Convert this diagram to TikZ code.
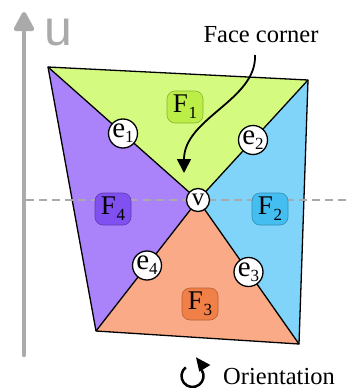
\documentclass[tikz,border=0pt]{standalone}
\usepackage{fontspec}
\setmainfont{Liberation Serif}
\newfontfamily\serifx{Liberation Serif}
\newfontfamily\axisfont{Liberation Sans}
\usetikzlibrary{arrows.meta,calc}
\definecolor{fone}{RGB}{213,250,128}
\definecolor{ftwo}{RGB}{128,212,250}
\definecolor{fthree}{RGB}{250,170,135}
\definecolor{ffour}{RGB}{170,130,250}
\definecolor{bone}{RGB}{188,238,72}
\definecolor{btwo}{RGB}{68,190,240}
\definecolor{bthree}{RGB}{240,128,72}
\definecolor{bfour}{RGB}{128,80,240}
\definecolor{axgray}{RGB}{170,170,170}
\newcommand{\flab}[1]{F\kern0.5pt\raisebox{-6pt}{\fontsize{17}{17}\selectfont #1}}
\newcommand{\elab}[1]{e\raisebox{-5pt}{\fontsize{17}{17}\selectfont #1}}
\tikzset{
  facebox/.style={rounded corners=8pt, minimum width=36pt, minimum height=32pt, inner sep=0pt, draw=#1!75!black, fill=#1, line width=0.6pt, font=\serifx\fontsize{27}{27}\selectfont},
  edgenode/.style={circle, draw=black, fill=white, line width=1.3pt, minimum size=29pt, inner sep=0pt, font=\serifx\fontsize{29}{29}\selectfont},
  vertnode/.style={circle, draw=black, fill=white, line width=1.3pt, minimum size=23pt, inner sep=0pt, font=\serifx\fontsize{25}{25}\selectfont},
  edgeline/.style={line width=1.3pt, line join=round},
  textlabel/.style={font=\serifx\fontsize{24.5}{24.5}\selectfont, inner sep=0pt, anchor=base}
}
\begin{document}
\begin{tikzpicture}[x=1pt, y=-1pt]
\useasboundingbox (0,0) rectangle (350,388);
% corners
\coordinate (TL) at (48,67);
\coordinate (TR) at (308,80);
\coordinate (BR) at (299,344);
\coordinate (BL) at (96,331);
\coordinate (V) at (198,200);
% faces
\fill[fone] (TL) -- (TR) -- (V) -- cycle;
\fill[ftwo] (TR) -- (BR) -- (V) -- cycle;
\fill[fthree] (BR) -- (BL) -- (V) -- cycle;
\fill[ffour] (BL) -- (TL) -- (V) -- cycle;
\draw[edgeline] (TL) -- (TR) -- (BR) -- (BL) -- cycle;
\draw[edgeline] (TL) -- (V) -- (BR);
\draw[edgeline] (TR) -- (V) -- (BL);
% axis
\coordinate (axbot) at (24,355);
\coordinate (axtop) at (24,12);
\draw[axgray, line width=4.5pt, line cap=round, -{Triangle[width=22pt,length=22pt,round]}] (axbot) -- (axtop);
\node[anchor=base, inner sep=0pt, text=axgray, font=\axisfont\fontsize{50}{50}\selectfont] (u) at (58,45) {u};
\coordinate (dashl) at (26,200);
\coordinate (dashr) at (350,200);
\draw[axgray, line width=2.2pt, dash pattern=on 8pt off 5pt] (dashl) -- (dashr);
% face labels
\node[facebox=bone] (F1) at (185,107) {\flab{1}};
\node[facebox=btwo] (F2) at (270,209) {\flab{2}};
\node[facebox=bthree] (F3) at (200,304) {\flab{3}};
\node[facebox=bfour] (F4) at (113,209) {\flab{4}};
% edge nodes
\node[edgenode] (e1) at ($(TL)!0.5!(V)$) {\elab{1}};
\node[edgenode] (e2) at ($(TR)!0.5!(V)$) {\elab{2}};
\node[edgenode] (e3) at ($(BR)!0.5!(V)$) {\elab{3}};
\node[edgenode] (e4) at ($(BL)!0.5!(V)$) {\elab{4}};
\node[vertnode] (v) at (V) {v};
% face corner
\node[textlabel] (fc) at (261,42) {Face corner};
\coordinate (fcstart) at (255,55);
\coordinate (fctip) at (184,173);
\draw[line width=1.8pt, -{Triangle[width=14pt,length=14pt]}] (fcstart) .. controls (257,100) and (184,118) .. (fctip);
% orientation
\node[textlabel] (ori) at (279,384) {Orientation};
\coordinate (oc) at (192.5,376);
\begin{scope}[shift={(oc)}, y=1pt]
\draw[line width=2.5pt] (128:11) arc[start angle=128, end angle=392, radius=11];
\fill (3.5,18.7) -- (17.8,11) -- (6.8,4.3) -- cycle;
\end{scope}
\end{tikzpicture}
\end{document}
